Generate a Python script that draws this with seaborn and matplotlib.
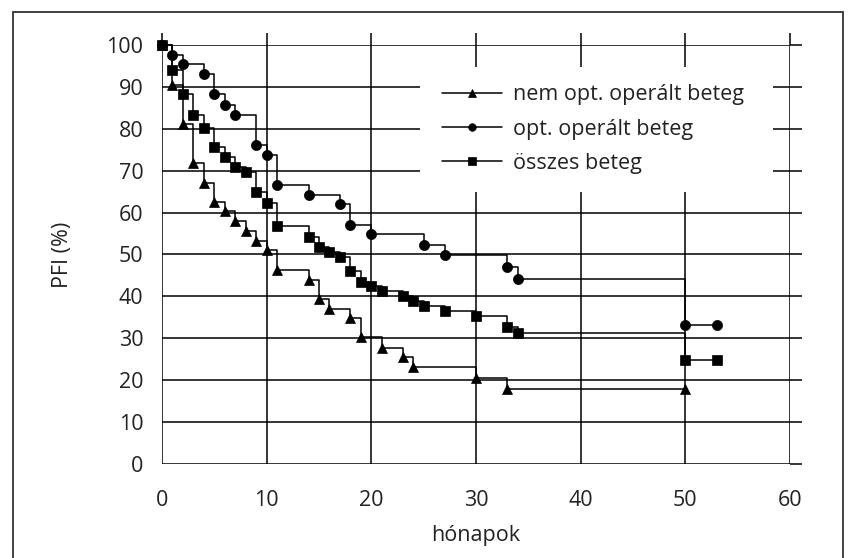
import numpy as np
import pandas as pd
import matplotlib
matplotlib.use("Agg")
import matplotlib.pyplot as plt
from matplotlib.patches import Rectangle
import seaborn as sns

# Kaplan-Meier steps (months, PFI %)
months_nem = [0, 1, 2, 3, 4, 5, 6, 7, 8, 9, 10, 11, 14, 15, 16, 18, 19, 21, 23, 24, 30, 33, 50]
pfi_nem = [100, 90.5, 81.1, 71.8, 67.1, 62.5, 60.3, 58, 55.5, 53.3, 51, 46.3, 44, 39.3, 37,
           34.8, 30.2, 27.6, 25.5, 23.2, 20.5, 18, 18]

months_opt = [0, 1, 2, 4, 5, 6, 7, 9, 10, 11, 14, 17, 18, 20, 25, 27, 33, 34, 50, 53]
pfi_opt = [100, 97.6, 95.4, 93, 88.2, 85.7, 83.4, 76.1, 73.7, 66.7, 64.3, 62, 57, 54.8,
           52.3, 49.8, 47.1, 44.1, 33.1, 33.1]

months_all = [0, 1, 2, 3, 4, 5, 6, 7, 8, 9, 10, 11, 14, 15, 16, 17, 18, 19, 20, 21, 23, 24,
              25, 27, 30, 33, 34, 50, 53]
pfi_all = [100, 94, 88.3, 83.4, 80.1, 75.6, 73.2, 70.8, 69.6, 64.8, 62.4, 56.7, 54.2, 51.8,
           50.7, 49.5, 46, 43.5, 42.5, 41.3, 40.2, 39, 37.8, 36.5, 35.3, 32.6, 31.3, 24.8, 24.8]

groups = ["nem opt. operált beteg", "opt. operált beteg", "összes beteg"]
group_markers = ["^", "o", "s"]

x_ticks = [0, 10, 20, 30, 40, 50, 60]
y_ticks = [0, 10, 20, 30, 40, 50, 60, 70, 80, 90, 100]

df = pd.concat([
    pd.DataFrame({"hónapok": months_nem, "PFI": pfi_nem, "csoport": groups[0]}),
    pd.DataFrame({"hónapok": months_opt, "PFI": pfi_opt, "csoport": groups[1]}),
    pd.DataFrame({"hónapok": months_all, "PFI": pfi_all, "csoport": groups[2]}),
], ignore_index=True)

sns.set_style("white")
plt.rcParams["font.family"] = ["Open Sans", "DejaVu Sans"]
fs = 15.5
text_col = "#222222"

fig = plt.figure(figsize=(8.48, 5.58), dpi=100)
ax = fig.add_axes([162 / 848, 1 - 464 / 558, 628 / 848, 419 / 558])

sns.lineplot(data=df, x="hónapok", y="PFI", hue="csoport", style="csoport",
             hue_order=groups, style_order=groups,
             palette=["black"] * 3, markers=dict(zip(groups, group_markers)),
             dashes=False, drawstyle="steps-post", linewidth=1.1,
             markersize=7.3, markeredgecolor="black", markeredgewidth=0.5,
             estimator=None, sort=False, ax=ax, zorder=3, clip_on=False)

ax.set_xlim(0, 60)
ax.set_ylim(0, 100)
ax.set_xticks(x_ticks)
ax.set_yticks(y_ticks)
ax.set_axisbelow(True)
ax.grid(True, color="black", linewidth=1.1)
for sp in ax.spines.values():
    sp.set_visible(False)
ax.tick_params(direction="out", length=8.5, width=1.1, color="black",
               top=True, right=True, labeltop=False, labelright=False,
               labelsize=fs, labelcolor=text_col)
ax.tick_params(axis="y", pad=5)
ax.tick_params(axis="x", pad=10)
ax.set_xlabel("hónapok", fontsize=fs, color=text_col, labelpad=10)
ax.set_ylabel("PFI (%)", fontsize=fs, color=text_col, labelpad=24)

# white block behind the legend, hiding the grid
ax.add_patch(Rectangle((0.411, 0.649), 0.562, 0.298, transform=ax.transAxes,
                       facecolor="white", edgecolor="none", zorder=1.5))

handles, labels = ax.get_legend_handles_labels()
leg = ax.legend(handles, labels, loc="upper left", bbox_to_anchor=(0.432, 0.927),
                frameon=False, fontsize=fs, handlelength=2.8, handletextpad=0.5,
                labelspacing=0.62, markerscale=0.75, borderaxespad=0)
for t in leg.get_texts():
    t.set_color(text_col)

fig.patches.append(Rectangle((13 / 848, -0.02), 830 / 848, 1.02 - 12 / 558,
                             transform=fig.transFigure, fill=False,
                             edgecolor="#333333", linewidth=1.3))

fig.savefig("out.png", dpi=100)
